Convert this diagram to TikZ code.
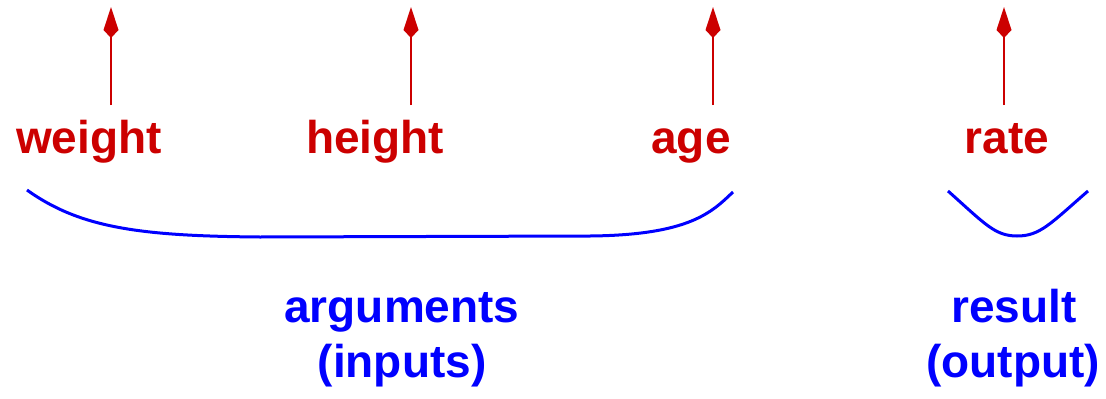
\documentclass[tikz,border=0pt]{standalone}
\usepackage{fontspec}
\setmainfont{Liberation Sans}
\usetikzlibrary{arrows.meta}
\definecolor{argred}{RGB}{204,0,0}
\definecolor{argblue}{RGB}{0,0,255}
\tikzset{
  lbl/.style={font=\fontsize{46}{52}\selectfont\bfseries, anchor=base, inner sep=0pt},
  redlbl/.style={lbl, text=argred},
  bluelbl/.style={lbl, text=argblue, align=center},
  up/.style={draw=argred, line width=2.6pt, -{Kite[length=31pt,width=15pt,inset=8pt]}},
  brace/.style={draw=argblue, line width=3pt}
}
\begin{document}
\begin{tikzpicture}[x=1pt,y=-1pt]
\useasboundingbox (0,0) rectangle (1106,399);
% labels
\node[redlbl] (weight) at (89,153) {weight};
\node[redlbl] (height) at (375,153) {height};
\node[redlbl] (age) at (691,153) {age};
\node[redlbl] (rate) at (1007,153) {rate};
% arrows
\coordinate (w0) at (111,105); \coordinate (w1) at (111,7);
\coordinate (h0) at (411,105); \coordinate (h1) at (411,7);
\coordinate (a0) at (713,105); \coordinate (a1) at (713,7);
\coordinate (r0) at (1004,105); \coordinate (r1) at (1004,7);
\draw[up] (w0) -- (w1);
\draw[up] (h0) -- (h1);
\draw[up] (a0) -- (a1);
\draw[up] (r0) -- (r1);
% braces
\coordinate (bl) at (27,190);
\coordinate (br) at (733,192);
\coordinate (sl) at (948,191);
\coordinate (sm) at (1017,236);
\coordinate (sr) at (1088,191);
\draw[brace] (bl) .. controls (80,228) and (140,236) .. (260,237) -- (590,236) .. controls (690,235) and (712,212) .. (br);
\draw[brace] (sl) .. controls (985,224) and (995,236) .. (sm) .. controls (1040,236) and (1050,224) .. (sr);
% bottom labels
\node[bluelbl] (args) at (402,322) {arguments};
\node[bluelbl] (inputs) at (402,377) {(inputs)};
\node[bluelbl] (result) at (1014,322) {result};
\node[bluelbl] (output) at (1013,377) {(output)};
\end{tikzpicture}
\end{document}
